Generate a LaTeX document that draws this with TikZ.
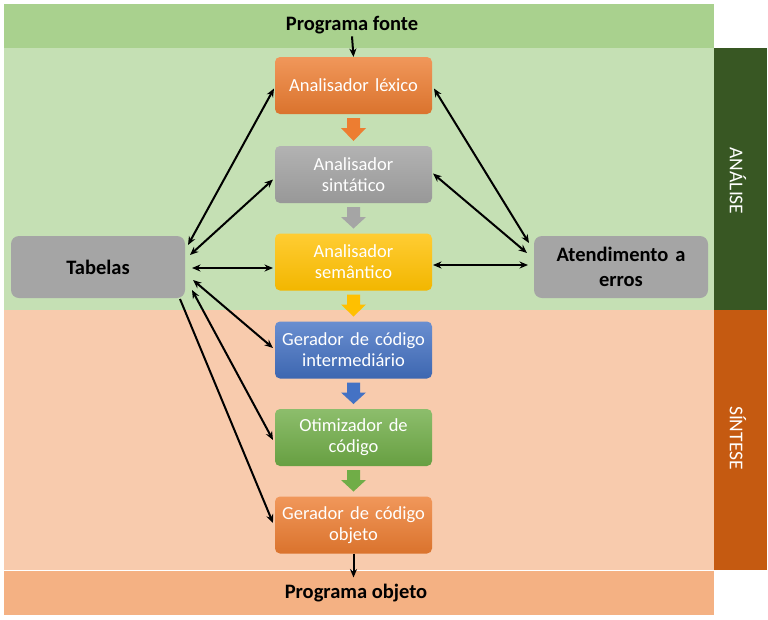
\documentclass[tikz,border=0pt]{standalone}
\usepackage{fontspec}
\setmainfont{Carlito}
\usetikzlibrary{arrows.meta,calc}
\definecolor{bandtop}{HTML}{A9D18E}
\definecolor{analbg}{HTML}{C5E0B4}
\definecolor{sintbg}{HTML}{F8CBAD}
\definecolor{bandbot}{HTML}{F4B183}
\definecolor{darkgreen}{HTML}{385723}
\definecolor{darkorange}{HTML}{C55A11}
\definecolor{cOrange}{HTML}{ED7D31}
\definecolor{cGray}{HTML}{A5A5A5}
\definecolor{cGold}{HTML}{FFC000}
\definecolor{cBlue}{HTML}{4472C4}
\definecolor{cGreen}{HTML}{70AD47}
\begin{document}
\begin{tikzpicture}[x=1pt,y=-1pt,
  font=\fontsize{18.5}{21}\selectfont,
  band/.style={draw=none, inner sep=0pt, outer sep=0pt},
  procbox/.style={rounded corners=5pt, minimum width=157pt, minimum height=57pt,
    text width=155pt, align=center, text=white, inner sep=0pt, outer sep=0pt},
  graybox/.style={rounded corners=8pt, fill=cGray, minimum width=174pt, minimum height=62pt,
    text width=170pt, align=center, inner sep=0pt, outer sep=0pt, font=\fontsize{20.5}{25}\selectfont\bfseries},
  title/.style={font=\fontsize{20.5}{25}\selectfont\bfseries},
  sidelabel/.style={rotate=-90, text=white, font=\fontsize{19.5}{22}\selectfont},
  link/.style={line width=2pt, {Stealth[length=8.5pt,width=7pt]}-{Stealth[length=8.5pt,width=7pt]}},
  onelink/.style={line width=2pt, -{Stealth[length=8.5pt,width=7pt]}},
  blockarrow/.style={fill=#1, draw=none}
]
\useasboundingbox (0,0) rectangle (768,619);
\fill[white] (0,0) rectangle (768,619);

% bands
\node[band, fill=bandtop, minimum width=710pt, minimum height=44pt] (bsrc) at (358.5,25.5) {};
\node[band, fill=analbg, minimum width=710pt, minimum height=262pt] (banal) at (358.5,179) {};
\node[band, fill=sintbg, minimum width=710pt, minimum height=260pt] (bsint) at (358.5,440) {};
\node[band, fill=bandbot, minimum width=710pt, minimum height=44pt] (bobj) at (358.5,592.5) {};
\node[band, fill=darkgreen, minimum width=53pt, minimum height=262pt] (ranal) at (740.5,179) {};
\node[band, fill=darkorange, minimum width=53pt, minimum height=260pt] (rsint) at (740.5,440) {};
\node[sidelabel] (tanal) at (738,181) {ANÁLISE};
\node[sidelabel] (tsint) at (738,438) {SÍNTESE};

\node[title] (src) at (352,25) {Programa fonte};
\node[title] (obj) at (356,593) {Programa objeto};

% process boxes
\node[procbox, top color=cOrange!80!white, bottom color=cOrange!92!black] (lex) at (353.5,85.5) {Analisador léxico};
\node[procbox, top color=cGray!85!white, bottom color=cGray!92!black] (sin) at (353.5,174.5) {Analisador\\sintático};
\node[procbox, top color=cGold!80!white, bottom color=cGold!95!black] (sem) at (353.5,262) {Analisador\\semântico};
\node[procbox, top color=cBlue!80!white, bottom color=cBlue!90!black] (gci) at (353.5,350) {Gerador de código\\intermediário};
\node[procbox, top color=cGreen!80!white, bottom color=cGreen!92!black] (oti) at (353.5,437.5) {Otimizador de\\código};
\node[procbox, top color=cOrange!80!white, bottom color=cOrange!92!black] (gco) at (353.5,525) {Gerador de código\\objeto};

% block arrows
\foreach \a/\b/\c in {lex/sin/cOrange, sin/sem/cGray, sem/gci/cGold, gci/oti/cBlue, oti/gco/cGreen}{
  \fill[blockarrow=\c] ($(\a.south)+(-6.5,4)$) -- ($(\a.south)+(6.5,4)$) -- ($(\a.south)+(6.5,14)$)
     -- ($(\a.south)+(12.5,14)$) -- ($(\b.north)+(0,-5)$) -- ($(\a.south)+(-12.5,14)$)
     -- ($(\a.south)+(-6.5,14)$) -- cycle;
}

% side boxes
\node[graybox] (tab) at (98,267) {Tabelas};
\node[graybox] (att) at (621,267) {Atendimento a\\erros};

% connectors
\draw[onelink] (src.south) ++(0,-1) -- (lex.north);
\draw[onelink] (gco.south) -- ($(bobj.north)+(-5,7)$);

\draw[link] ($(tab.east)+(3,-22)$) -- ($(lex.west)+(-1,3)$);
\draw[link] ($(tab.east)+(5,-12)$) -- ($(sin.west)+(-2,5)$);
\draw[link] ($(tab.east)+(7,1)$) -- ($(sem.west)+(-2,6)$);
\draw[link] ($(tab.east)+(8,13)$) -- ($(gci.west)+(-2,-2)$);
\draw[link] ($(tab.east)+(7,23)$) -- ($(oti.west)+(-2,2.5)$);
\draw[onelink] ($(tab.south east)+(-5,1)$) -- ($(gco.west)+(-2,-2)$);

\draw[link] ($(lex.east)+(2,3)$) -- ($(att.west)+(-5,-24)$);
\draw[link] ($(sin.east)+(1,-1)$) -- ($(att.west)+(-7,-14)$);
\draw[link] ($(sem.east)+(1,3)$) -- ($(att.west)+(-6,-2)$);
\end{tikzpicture}
\end{document}
